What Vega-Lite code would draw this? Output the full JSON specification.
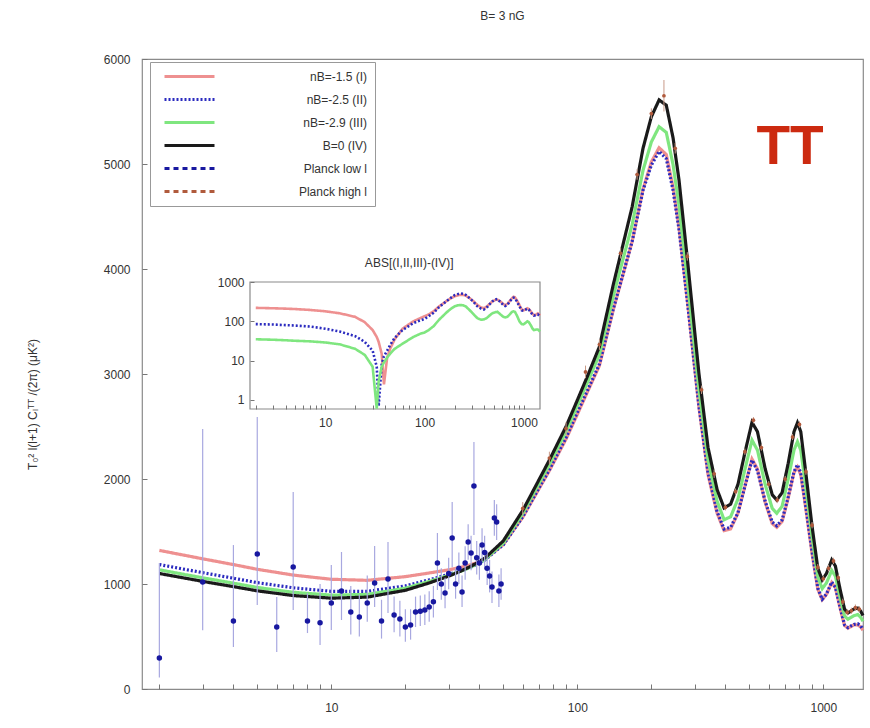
{
  "$schema": "https://vega.github.io/schema/vega-lite/v6.json",
  "width": 721,
  "height": 630,
  "autosize": {"type": "none"},
  "padding": {"left": 142, "top": 59, "right": 7, "bottom": 39},
  "background": "white",
  "config": {
    "font": "Liberation Sans",
    "view": {"stroke": "#8a8a8a", "strokeWidth": 1.2},
    "axis": {"labelFont": "Liberation Sans", "labelFontSize": 12, "labelColor": "#333", "domain": false, "grid": false, "tickColor": "#777", "tickWidth": 1, "labelOverlap": false, "labelFlush": false}
  },
  "title": {"text": "B= 3 nG", "fontSize": 12, "fontWeight": "normal", "color": "#333", "offset": 30, "font": "Liberation Sans"},
  "datasets": {
    "curves": [
      {"l":2,"I":1320,"II":1185,"III":1135,"IV":1100},
      {"l":3,"I":1240,"II":1108,"III":1059,"IV":1025},
      {"l":4,"I":1185,"II":1055,"III":1008,"IV":975},
      {"l":5,"I":1140,"II":1013,"III":967,"IV":935},
      {"l":7,"I":1085,"II":964,"III":921,"IV":890},
      {"l":10,"I":1045,"II":930,"III":894,"IV":865},
      {"l":14,"I":1035,"II":930,"III":901,"IV":875},
      {"l":20,"I":1070,"II":982,"III":960,"IV":940},
      {"l":25,"I":1105,"II":1040,"III":1024,"IV":1010},
      {"l":30,"I":1135,"II":1093,"III":1082,"IV":1075},
      {"l":33,"I":1155,"II":1122,"III":1116,"IV":1115},
      {"l":34.5,"I":1165,"II":1136,"III":1132,"IV":1135},
      {"l":37,"I":1185,"II":1162,"III":1163,"IV":1170},
      {"l":39,"I":1202,"II":1187,"III":1191,"IV":1200},
      {"l":42,"I":1233,"II":1227,"III":1233,"IV":1245},
      {"l":45,"I":1290,"II":1285,"III":1295,"IV":1310},
      {"l":50,"I":1375,"II":1372,"III":1390,"IV":1410},
      {"l":60,"I":1635,"II":1640,"III":1673,"IV":1700},
      {"l":77,"I":2080,"II":2090,"III":2140,"IV":2180},
      {"l":90,"I":2380,"II":2395,"III":2452,"IV":2500},
      {"l":100,"I":2615,"II":2635,"III":2698,"IV":2750},
      {"l":110,"I":2830,"II":2845,"III":2920,"IV":2980},
      {"l":123,"I":3080,"II":3095,"III":3185,"IV":3260},
      {"l":140,"I":3610,"II":3620,"III":3740,"IV":3850},
      {"l":167,"I":4260,"II":4260,"III":4420,"IV":4590},
      {"l":185,"I":4760,"II":4750,"III":4940,"IV":5150},
      {"l":200,"I":5020,"II":4990,"III":5210,"IV":5450},
      {"l":215,"I":5155,"II":5120,"III":5355,"IV":5610},
      {"l":230,"I":5090,"II":5050,"III":5300,"IV":5560},
      {"l":245,"I":4780,"II":4750,"III":4995,"IV":5250},
      {"l":259,"I":4400,"II":4380,"III":4610,"IV":4850},
      {"l":280,"I":3700,"II":3700,"III":3900,"IV":4100},
      {"l":312,"I":2690,"II":2700,"III":2860,"IV":3010},
      {"l":340,"I":2040,"II":2060,"III":2180,"IV":2300},
      {"l":370,"I":1675,"II":1690,"III":1790,"IV":1900},
      {"l":395,"I":1509,"II":1524,"III":1612,"IV":1724},
      {"l":420,"I":1525,"II":1540,"III":1640,"IV":1760},
      {"l":450,"I":1675,"II":1680,"III":1810,"IV":1950},
      {"l":480,"I":1930,"II":1930,"III":2090,"IV":2250},
      {"l":513,"I":2190,"II":2180,"III":2370,"IV":2540},
      {"l":540,"I":2095,"II":2080,"III":2275,"IV":2450},
      {"l":580,"I":1780,"II":1790,"III":1950,"IV":2100},
      {"l":620,"I":1575,"II":1590,"III":1720,"IV":1850},
      {"l":647,"I":1540,"II":1555,"III":1674,"IV":1800},
      {"l":680,"I":1595,"II":1610,"III":1740,"IV":1870},
      {"l":720,"I":1820,"II":1830,"III":2000,"IV":2150},
      {"l":760,"I":2060,"II":2070,"III":2275,"IV":2450},
      {"l":785,"I":2115,"II":2135,"III":2355,"IV":2535},
      {"l":810,"I":2040,"II":2060,"III":2275,"IV":2450},
      {"l":850,"I":1710,"II":1730,"III":1910,"IV":2050},
      {"l":900,"I":1290,"II":1310,"III":1450,"IV":1550},
      {"l":950,"I":950,"II":960,"III":1065,"IV":1150},
      {"l":990,"I":850,"II":855,"III":956,"IV":1040},
      {"l":1030,"I":900,"II":905,"III":1010,"IV":1100},
      {"l":1082,"I":1014,"II":1019,"III":1129,"IV":1229},
      {"l":1120,"I":965,"II":970,"III":1075,"IV":1170},
      {"l":1170,"I":770,"II":780,"III":870,"IV":950},
      {"l":1220,"I":605,"II":610,"III":695,"IV":760},
      {"l":1260,"I":579,"II":584,"III":664,"IV":724},
      {"l":1330,"I":610,"II":615,"III":698,"IV":760},
      {"l":1380,"I":611,"II":621,"III":709,"IV":771},
      {"l":1420,"I":590,"II":600,"III":682,"IV":740},
      {"l":1450,"I":560,"II":565,"III":645,"IV":700}
    ],
    "diffs": [
      {"l":2,"I":220,"II":85,"III":35},
      {"l":3,"I":215,"II":83,"III":34},
      {"l":4,"I":210,"II":80,"III":33},
      {"l":5,"I":205,"II":78,"III":32},
      {"l":7,"I":195,"II":74,"III":31},
      {"l":10,"I":180,"II":65,"III":29},
      {"l":14,"I":160,"II":55,"III":26},
      {"l":20,"I":130,"II":42,"III":20},
      {"l":25,"I":95,"II":30,"III":14},
      {"l":30,"I":60,"II":18,"III":7},
      {"l":33,"I":40,"II":7,"III":0.6},
      {"l":34.5,"I":30,"II":0.7,"III":3},
      {"l":37,"I":15,"II":8,"III":7},
      {"l":39,"I":2.5,"II":13,"III":9},
      {"l":42,"I":12,"II":18,"III":12},
      {"l":45,"I":20,"II":25,"III":15},
      {"l":50,"I":35,"II":38,"III":20},
      {"l":60,"I":65,"II":60,"III":27},
      {"l":77,"I":100,"II":90,"III":40},
      {"l":90,"I":120,"II":105,"III":48},
      {"l":100,"I":135,"II":115,"III":52},
      {"l":110,"I":150,"II":135,"III":60},
      {"l":123,"I":180,"II":165,"III":75},
      {"l":140,"I":240,"II":230,"III":110},
      {"l":167,"I":330,"II":330,"III":170},
      {"l":185,"I":390,"II":400,"III":210},
      {"l":200,"I":430,"II":460,"III":240},
      {"l":215,"I":455,"II":490,"III":255},
      {"l":230,"I":470,"II":510,"III":260},
      {"l":245,"I":470,"II":500,"III":255},
      {"l":259,"I":450,"II":470,"III":240},
      {"l":280,"I":400,"II":400,"III":200},
      {"l":312,"I":320,"II":310,"III":150},
      {"l":340,"I":260,"II":240,"III":120},
      {"l":370,"I":225,"II":210,"III":110},
      {"l":395,"I":215,"II":200,"III":112},
      {"l":420,"I":235,"II":220,"III":120},
      {"l":450,"I":275,"II":270,"III":140},
      {"l":480,"I":320,"II":320,"III":160},
      {"l":513,"I":350,"II":360,"III":170},
      {"l":540,"I":355,"II":370,"III":175},
      {"l":580,"I":320,"II":310,"III":150},
      {"l":620,"I":275,"II":260,"III":130},
      {"l":647,"I":260,"II":245,"III":126},
      {"l":680,"I":275,"II":260,"III":130},
      {"l":720,"I":330,"II":320,"III":150},
      {"l":760,"I":390,"II":380,"III":175},
      {"l":785,"I":420,"II":400,"III":180},
      {"l":810,"I":410,"II":390,"III":175},
      {"l":850,"I":340,"II":320,"III":140},
      {"l":900,"I":260,"II":240,"III":100},
      {"l":950,"I":200,"II":190,"III":85},
      {"l":990,"I":190,"II":185,"III":84},
      {"l":1030,"I":200,"II":195,"III":90},
      {"l":1082,"I":215,"II":210,"III":100},
      {"l":1120,"I":205,"II":200,"III":95},
      {"l":1170,"I":180,"II":170,"III":80},
      {"l":1220,"I":155,"II":150,"III":65},
      {"l":1260,"I":145,"II":140,"III":60},
      {"l":1330,"I":150,"II":145,"III":62},
      {"l":1380,"I":160,"II":150,"III":62},
      {"l":1420,"I":150,"II":140,"III":58},
      {"l":1450,"I":140,"II":135,"III":55}
    ],
    "low": [
      {"s":"low","l":2,"v":295,"lo":110,"hi":1200},
      {"s":"low","l":3,"v":1019,"lo":560,"hi":2476},
      {"s":"low","l":4,"v":648,"lo":400,"hi":1371},
      {"s":"low","l":5,"v":1286,"lo":800,"hi":2590},
      {"s":"low","l":6,"v":590,"lo":352,"hi":876},
      {"s":"low","l":7,"v":1162,"lo":752,"hi":1876},
      {"s":"low","l":8,"v":648,"lo":533,"hi":914},
      {"s":"low","l":9,"v":630,"lo":420,"hi":1000},
      {"s":"low","l":10,"v":819,"lo":562,"hi":1181},
      {"s":"low","l":11,"v":933,"lo":657,"hi":1305},
      {"s":"low","l":12,"v":733,"lo":520,"hi":980},
      {"s":"low","l":13,"v":686,"lo":500,"hi":900},
      {"s":"low","l":14,"v":820,"lo":640,"hi":1080},
      {"s":"low","l":15,"v":1010,"lo":781,"hi":1362},
      {"s":"low","l":16,"v":648,"lo":480,"hi":850},
      {"s":"low","l":17,"v":1048,"lo":724,"hi":1400},
      {"s":"low","l":18,"v":705,"lo":540,"hi":880},
      {"s":"low","l":19,"v":667,"lo":500,"hi":840},
      {"s":"low","l":20,"v":590,"lo":450,"hi":760},
      {"s":"low","l":21,"v":610,"lo":470,"hi":760},
      {"s":"low","l":22,"v":733,"lo":590,"hi":880},
      {"s":"low","l":23,"v":740,"lo":600,"hi":890},
      {"s":"low","l":24,"v":752,"lo":610,"hi":900},
      {"s":"low","l":25,"v":781,"lo":640,"hi":930},
      {"s":"low","l":26,"v":830,"lo":680,"hi":980},
      {"s":"low","l":27,"v":1200,"lo":943,"hi":1486},
      {"s":"low","l":28,"v":1000,"lo":850,"hi":1150},
      {"s":"low","l":29,"v":914,"lo":770,"hi":1060},
      {"s":"low","l":30,"v":1100,"lo":950,"hi":1250},
      {"s":"low","l":31,"v":1438,"lo":1162,"hi":1781},
      {"s":"low","l":32,"v":1000,"lo":860,"hi":1150},
      {"s":"low","l":33,"v":1150,"lo":1000,"hi":1300},
      {"s":"low","l":34,"v":924,"lo":780,"hi":1080},
      {"s":"low","l":35,"v":1200,"lo":1040,"hi":1360},
      {"s":"low","l":36,"v":1400,"lo":1230,"hi":1570},
      {"s":"low","l":37,"v":1295,"lo":1130,"hi":1460},
      {"s":"low","l":38,"v":1933,"lo":1467,"hi":2352},
      {"s":"low","l":39,"v":1250,"lo":1090,"hi":1410},
      {"s":"low","l":40,"v":1200,"lo":1040,"hi":1360},
      {"s":"low","l":41,"v":1371,"lo":1210,"hi":1530},
      {"s":"low","l":42,"v":1300,"lo":1140,"hi":1460},
      {"s":"low","l":43,"v":1150,"lo":990,"hi":1310},
      {"s":"low","l":44,"v":1076,"lo":920,"hi":1230},
      {"s":"low","l":45,"v":971,"lo":820,"hi":1120},
      {"s":"low","l":46,"v":1629,"lo":1460,"hi":1800},
      {"s":"low","l":47,"v":1590,"lo":1420,"hi":1760},
      {"s":"low","l":48,"v":933,"lo":780,"hi":1090},
      {"s":"low","l":49,"v":1000,"lo":850,"hi":1150}
    ],
    "high": [
      {"s":"high","l":60,"v":1720,"lo":1660,"hi":1780},
      {"s":"high","l":77,"v":2200,"lo":2140,"hi":2260},
      {"s":"high","l":90,"v":2480,"lo":2420,"hi":2540},
      {"s":"high","l":108,"v":3020,"lo":2960,"hi":3080},
      {"s":"high","l":123,"v":3280,"lo":3230,"hi":3330},
      {"s":"high","l":150,"v":4150,"lo":4100,"hi":4200},
      {"s":"high","l":175,"v":4900,"lo":4850,"hi":4950},
      {"s":"high","l":200,"v":5480,"lo":5430,"hi":5530},
      {"s":"high","l":225,"v":5650,"lo":5500,"hi":5800},
      {"s":"high","l":250,"v":5150,"lo":5100,"hi":5200},
      {"s":"high","l":280,"v":4120,"lo":4080,"hi":4160},
      {"s":"high","l":320,"v":2850,"lo":2810,"hi":2890},
      {"s":"high","l":360,"v":2050,"lo":2010,"hi":2090},
      {"s":"high","l":400,"v":1730,"lo":1700,"hi":1760},
      {"s":"high","l":440,"v":1880,"lo":1850,"hi":1910},
      {"s":"high","l":480,"v":2260,"lo":2230,"hi":2290},
      {"s":"high","l":520,"v":2560,"lo":2530,"hi":2590},
      {"s":"high","l":560,"v":2300,"lo":2270,"hi":2330},
      {"s":"high","l":600,"v":1950,"lo":1920,"hi":1980},
      {"s":"high","l":650,"v":1800,"lo":1770,"hi":1830},
      {"s":"high","l":700,"v":2000,"lo":1970,"hi":2030},
      {"s":"high","l":750,"v":2400,"lo":2370,"hi":2430},
      {"s":"high","l":800,"v":2520,"lo":2490,"hi":2550},
      {"s":"high","l":850,"v":2070,"lo":2040,"hi":2100},
      {"s":"high","l":900,"v":1560,"lo":1530,"hi":1590},
      {"s":"high","l":950,"v":1160,"lo":1130,"hi":1190},
      {"s":"high","l":1000,"v":1050,"lo":1020,"hi":1080},
      {"s":"high","l":1050,"v":1150,"lo":1120,"hi":1180},
      {"s":"high","l":1100,"v":1220,"lo":1190,"hi":1250},
      {"s":"high","l":1150,"v":1060,"lo":1030,"hi":1090},
      {"s":"high","l":1200,"v":830,"lo":800,"hi":860},
      {"s":"high","l":1250,"v":730,"lo":700,"hi":760},
      {"s":"high","l":1300,"v":745,"lo":715,"hi":775},
      {"s":"high","l":1350,"v":775,"lo":745,"hi":805},
      {"s":"high","l":1400,"v":760,"lo":730,"hi":790}
    ]
  },
  "layer": [
    {
      "layer": [
        {
          "data": {"name": "curves"},
          "transform": [{"fold": ["I","II","III","IV"], "as": ["s", "v"]}],
          "mark": {"type": "line", "strokeWidth": 3.2},
          "encoding": {
            "x": {"field": "l", "type": "quantitative", "scale": {"type": "log", "domain": [1.7, 1450], "nice": false},
              "axis": {"title": null, "orient": "bottom", "values": [2,3,4,5,6,7,8,9,10,20,30,40,50,60,70,80,90,100,200,300,400,500,600,700,800,900,1000], "format": "d", "labelExpr": "datum.value == 10 || datum.value == 100 || datum.value == 1000 ? datum.label : ''", "tickSize": -5, "labelPadding": 18}},
            "y": {"field": "v", "type": "quantitative", "scale": {"domain": [0, 6000], "nice": false},
              "axis": {"title": "T₀² l(l+1) Cₗᵀᵀ /(2π) (μK²)", "orient": "left", "values": [0,1000,2000,3000,4000,5000,6000], "format": "d", "tickSize": -5, "labelPadding": 17, "titlePadding": 64, "titleY": 345, "titleFontSize": 12, "titleFontWeight": "normal", "titleColor": "#333", "titleFont": "Liberation Sans"}},
            "color": {"field": "s", "type": "nominal", "scale": {"domain": ["I","II","III","IV","low","high"], "range": ["#ee9090","#2b2bbf","#7fe67f","#1a1a1a","#1818a0","#b05a3c"]},
              "legend": {"orient": "none", "legendX": 8, "legendY": 3, "title": null, "symbolType": "M-5,0H5", "symbolSize": 100, "symbolOffset": 25, "symbolStrokeWidth": 3, "labelAlign": "right", "labelOffset": 171, "rowPadding": 10, "padding": 8, "strokeColor": "#999", "fillColor": "white", "labelFontSize": 12, "labelColor": "#333", "labelFont": "Liberation Sans", "labelExpr": "datum.label == 'I' ? 'nB=-1.5 (I)' : datum.label == 'II' ? 'nB=-2.5 (II)' : datum.label == 'III' ? 'nB=-2.9 (III)' : datum.label == 'IV' ? 'B=0 (IV)' : datum.label == 'low' ? 'Planck  low l' : 'Planck high l'"}},
            "strokeDash": {"field": "s", "type": "nominal", "scale": {"domain": ["I","II","III","IV","low","high"], "range": [[1,0],[2,2],[1,0],[1,0],[5,4],[5,4]]},
              "legend": {"orient": "none", "legendX": 8, "legendY": 3, "title": null, "symbolType": "M-5,0H5", "symbolSize": 100, "symbolOffset": 25, "symbolStrokeWidth": 3, "labelAlign": "right", "labelOffset": 171, "rowPadding": 10, "padding": 8, "strokeColor": "#999", "fillColor": "white", "labelFontSize": 12, "labelColor": "#333", "labelFont": "Liberation Sans", "labelExpr": "datum.label == 'I' ? 'nB=-1.5 (I)' : datum.label == 'II' ? 'nB=-2.5 (II)' : datum.label == 'III' ? 'nB=-2.9 (III)' : datum.label == 'IV' ? 'B=0 (IV)' : datum.label == 'low' ? 'Planck  low l' : 'Planck high l'"}}
          }
        },
        {
          "data": {"name": "high"},
          "mark": {"type": "rule", "color": "#c89a88", "strokeWidth": 1},
          "encoding": {
            "x": {"field": "l", "type": "quantitative", "scale": {"type": "log", "domain": [1.7, 1450], "nice": false}},
            "y": {"field": "lo", "type": "quantitative", "scale": {"domain": [0, 6000], "nice": false}},
            "y2": {"field": "hi"}
          }
        },
        {
          "data": {"name": "high"},
          "mark": {"type": "point", "filled": true, "size": 14, "opacity": 1},
          "encoding": {
            "x": {"field": "l", "type": "quantitative", "scale": {"type": "log", "domain": [1.7, 1450], "nice": false}},
            "y": {"field": "v", "type": "quantitative", "scale": {"domain": [0, 6000], "nice": false}},
            "color": {"field": "s", "type": "nominal", "scale": {"domain": ["I","II","III","IV","low","high"], "range": ["#ee9090","#2b2bbf","#7fe67f","#1a1a1a","#1818a0","#b05a3c"]}}
          }
        },
        {
          "data": {"name": "low"},
          "mark": {"type": "rule", "color": "#a8a8e0", "strokeWidth": 1.2},
          "encoding": {
            "x": {"field": "l", "type": "quantitative", "scale": {"type": "log", "domain": [1.7, 1450], "nice": false}},
            "y": {"field": "lo", "type": "quantitative", "scale": {"domain": [0, 6000], "nice": false}},
            "y2": {"field": "hi"}
          }
        },
        {
          "data": {"name": "low"},
          "mark": {"type": "point", "filled": true, "size": 30, "opacity": 1},
          "encoding": {
            "x": {"field": "l", "type": "quantitative", "scale": {"type": "log", "domain": [1.7, 1450], "nice": false}},
            "y": {"field": "v", "type": "quantitative", "scale": {"domain": [0, 6000], "nice": false}},
            "color": {"field": "s", "type": "nominal", "scale": {"domain": ["I","II","III","IV","low","high"], "range": ["#ee9090","#2b2bbf","#7fe67f","#1a1a1a","#1818a0","#b05a3c"]}}
          }
        },
        {
          "data": {"values": [{"t": "TT"}]},
          "mark": {"type": "text", "fontSize": 55, "fontWeight": "bold", "color": "#cc2a10", "font": "Liberation Sans", "baseline": "middle", "align": "center"},
          "encoding": {
            "text": {"field": "t"},
            "x": {"datum": 733, "type": "quantitative", "scale": {"type": "log", "domain": [1.7, 1450], "nice": false}},
            "y": {"datum": 5160, "type": "quantitative", "scale": {"domain": [0, 6000], "nice": false}}
          }
        }
      ]
    },
    {
      "layer": [
        {
          "data": {"values": [{"t": "box"}]},
          "mark": {"type": "rect", "fill": "white", "stroke": "#8a8a8a", "strokeWidth": 1.2},
          "encoding": {
            "x": {"datum": 1.75, "type": "quantitative", "scale": {"type": "log", "domain": [1.75, 1450], "range": [108, 398], "nice": false}},
            "x2": {"datum": 1450},
            "y": {"datum": 0.59, "type": "quantitative", "scale": {"type": "log", "domain": [0.59, 1000], "range": [350, 223], "nice": false}},
            "y2": {"datum": 1000}
          }
        },
        {
          "data": {"name": "diffs"},
          "transform": [{"fold": ["I","II","III"], "as": ["s", "v"]}],
          "mark": {"type": "line", "strokeWidth": 2.6},
          "encoding": {
            "x": {"field": "l", "type": "quantitative", "scale": {"type": "log", "domain": [1.75, 1450], "range": [108, 398], "nice": false},
              "axis": {"title": null, "orient": "bottom", "offset": -280, "zindex": 2, "values": [2,3,4,5,6,7,8,9,10,20,30,40,50,60,70,80,90,100,200,300,400,500,600,700,800,900,1000], "format": "d", "labelExpr": "datum.value == 10 || datum.value == 100 || datum.value == 1000 ? datum.label : ''", "tickSize": -4, "labelPadding": 12}},
            "y": {"field": "v", "type": "quantitative", "scale": {"type": "log", "domain": [0.59, 1000], "range": [350, 223], "nice": false},
              "axis": {"title": null, "orient": "left", "offset": -108, "zindex": 2, "values": [1, 10, 100, 1000], "format": "d", "tickSize": -4, "labelPadding": 10}},
            "color": {"field": "s", "type": "nominal", "scale": {"domain": ["I","II","III","IV","low","high"], "range": ["#ee9090","#2b2bbf","#7fe67f","#1a1a1a","#1818a0","#b05a3c"]}},
            "strokeDash": {"field": "s", "type": "nominal", "scale": {"domain": ["I","II","III","IV","low","high"], "range": [[1,0],[2,2],[1,0],[1,0],[5,4],[5,4]]}}
          }
        },
        {
          "data": {"values": [{"t": "ABS[(I,II,III)-(IV)]"}]},
          "mark": {"type": "text", "fontSize": 12, "color": "#333", "font": "Liberation Sans", "baseline": "middle", "align": "center"},
          "encoding": {
            "text": {"field": "t"},
            "x": {"datum": 70, "type": "quantitative", "scale": {"type": "log", "domain": [1.75, 1450], "range": [108, 398], "nice": false}},
            "y": {"datum": 3000, "type": "quantitative", "scale": {"type": "log", "domain": [0.59, 1000], "range": [350, 223], "nice": false}}
          }
        }
      ]
    }
  ],
  "resolve": {"scale": {"x": "independent", "y": "independent"}, "axis": {"x": "independent", "y": "independent"}}
}
